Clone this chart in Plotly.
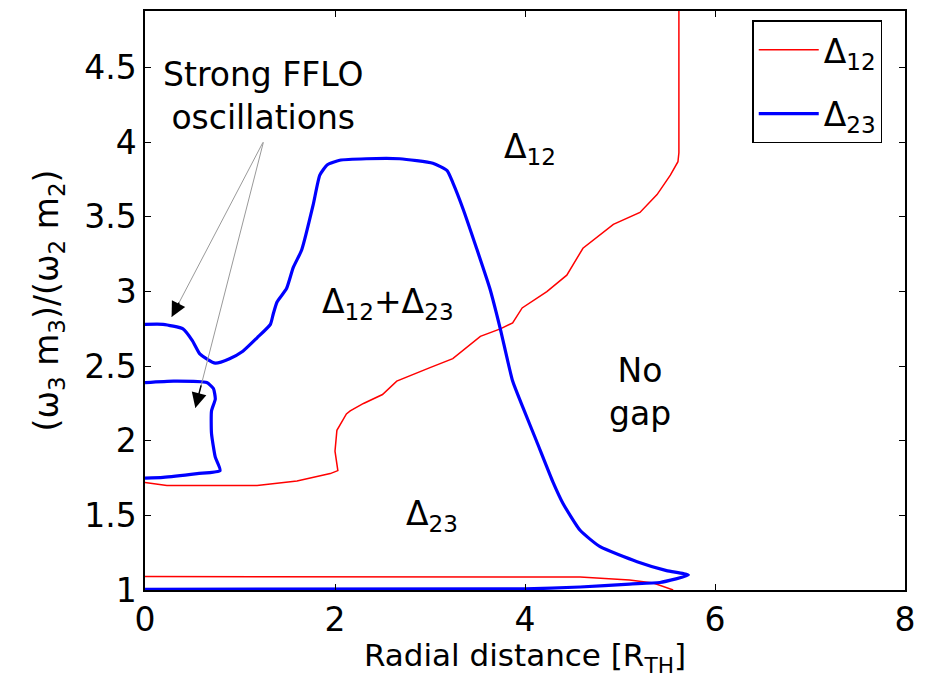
import plotly.graph_objects as go

# Δ12 (red): upper boundary path and lower line, separated by None
d12_x = [0, 0.23, 0.6, 1.18, 1.6, 1.95, 2.03, 2.0, 2.02, 2.12, 2.16, 2.3, 2.5, 2.65, 3.0, 3.24, 3.53,
         3.74, 3.87, 3.97, 4.23, 4.44, 4.61, 4.93, 5.21, 5.39, 5.53, 5.61, 5.62, 5.62,
         None,
         0, 2.0, 4.58, 5.1, 5.35, 5.56]
d12_y = [1.72, 1.70, 1.70, 1.70, 1.73, 1.78, 1.80, 1.93, 2.07, 2.18, 2.20, 2.25, 2.31, 2.40, 2.49, 2.55, 2.70,
         2.75, 2.79, 2.89, 3.00, 3.11, 3.29, 3.45, 3.53, 3.65, 3.78, 3.87, 3.93, 4.90,
         None,
         1.09, 1.088, 1.087, 1.067, 1.047, 1.0]

# Δ23 (blue): outer boundary and inner FFLO loop
d23_x = [0, 0.19, 0.4, 0.5, 0.58, 0.74, 0.89, 1.03, 1.18, 1.32, 1.35, 1.39, 1.49, 1.56, 1.65, 1.77, 1.84,
         1.92, 2.05, 2.33, 2.68, 3.03, 3.18, 3.24, 3.35, 3.49, 3.63, 3.74, 3.87, 3.98, 4.12, 4.29, 4.4,
         4.58, 4.79, 5.18, 5.49, 5.72, 5.42, 5.1, 4.58, 4.0, 0,
         None,
         0, 0.3, 0.65, 0.72, 0.74, 0.70, 0.70, 0.74, 0.79, 0.55, 0.19, 0]
d23_y = [2.78, 2.78, 2.75, 2.67, 2.58, 2.52, 2.55, 2.60, 2.69, 2.78, 2.85, 2.93, 3.02, 3.16, 3.28, 3.58, 3.78,
         3.85, 3.88, 3.89, 3.89, 3.86, 3.81, 3.73, 3.55, 3.29, 3.02, 2.75, 2.40, 2.22, 2.00, 1.73, 1.58,
         1.40, 1.29, 1.19, 1.13, 1.10, 1.05, 1.04, 1.02, 1.008, 1.005,
         None,
         2.39, 2.40, 2.39, 2.35, 2.28, 2.20, 2.05, 1.89, 1.80, 1.78, 1.755, 1.75]

x_ticks = [0, 2, 4, 6, 8]
y_ticks = [1, 1.5, 2, 2.5, 3, 3.5, 4, 4.5]

FONT = "DejaVu Sans, sans-serif"
FS = 33

fig = go.Figure()
fig.add_trace(go.Scatter(x=d12_x, y=d12_y, mode="lines", name="Δ<sub>12</sub>", legendgroup="a",
                         line=dict(color="#ff0000", width=1.5)))
fig.add_trace(go.Scatter(x=d23_x, y=d23_y, mode="lines", name="Δ<sub>23</sub>", legendgroup="b",
                         line=dict(color="#0000ff", width=3.2, shape="spline", smoothing=0.5)))

def region_label(x, y, text):
    fig.add_annotation(x=x, y=y, text=text, showarrow=False,
                       font=dict(family=FONT, size=FS, color="black"))

region_label(4.05, 3.96, "Δ<sub>12</sub>")
region_label(2.56, 2.92, "Δ<sub>12</sub>+Δ<sub>23</sub>")
region_label(5.21, 2.33, "No<br>gap")
region_label(3.02, 1.50, "Δ<sub>23</sub>")
region_label(1.24, 4.31, "Strong FFLO<br>oscillations")

# arrows: gray shaft + black head
tail = (1.25, 4.01)
heads = [(0.28, 2.83), (0.53, 2.22)]
for hx, hy in heads:
    fig.add_annotation(x=hx, y=hy, ax=tail[0], ay=tail[1], xref="x", yref="y", axref="x", ayref="y",
                       text="", showarrow=True, arrowhead=0, arrowwidth=1, arrowcolor="#999999")
    dx, dy = tail[0] - hx, tail[1] - hy
    fig.add_annotation(x=hx, y=hy, ax=hx + dx * 0.09, ay=hy + dy * 0.09, xref="x", yref="y",
                       axref="x", ayref="y", text="", showarrow=True, arrowhead=2,
                       arrowsize=2.0, arrowwidth=1.5, arrowcolor="black")

axis_common = dict(showgrid=False, zeroline=False, showline=True, linecolor="black", linewidth=1.5,
                   mirror="ticks", ticks="inside", ticklen=6, tickwidth=1.2, tickcolor="black",
                   tickfont=dict(family=FONT, size=FS, color="black"))

fig.update_xaxes(range=[0, 8], tickvals=x_ticks, ticktext=[str(v) for v in x_ticks],
                 title=dict(text="Radial distance [R<sub>TH</sub>]", standoff=3,
                            font=dict(family=FONT, size=31, color="black")),
                 **axis_common)
fig.update_yaxes(range=[1, 4.88], tickvals=y_ticks, ticktext=[f"{v:g}" for v in y_ticks],
                 title=dict(text="(ω<sub>3</sub> m<sub>3</sub>)/(ω<sub>2</sub> m<sub>2</sub>)", standoff=16,
                            font=dict(family=FONT, size=FS, color="black")),
                 **axis_common)

fig.update_layout(
    width=929, height=678, autosize=False,
    margin=dict(l=145, r=24, t=9, b=88),
    paper_bgcolor="white", plot_bgcolor="white",
    font=dict(family=FONT, color="black"),
    legend=dict(x=0.799, y=0.984, xanchor="left", yanchor="top", bgcolor="white",
                bordercolor="black", borderwidth=1.5, font=dict(family=FONT, size=FS, color="black"),
                traceorder="grouped", tracegroupgap=18, itemwidth=60),
)

fig.write_html("out.html")
